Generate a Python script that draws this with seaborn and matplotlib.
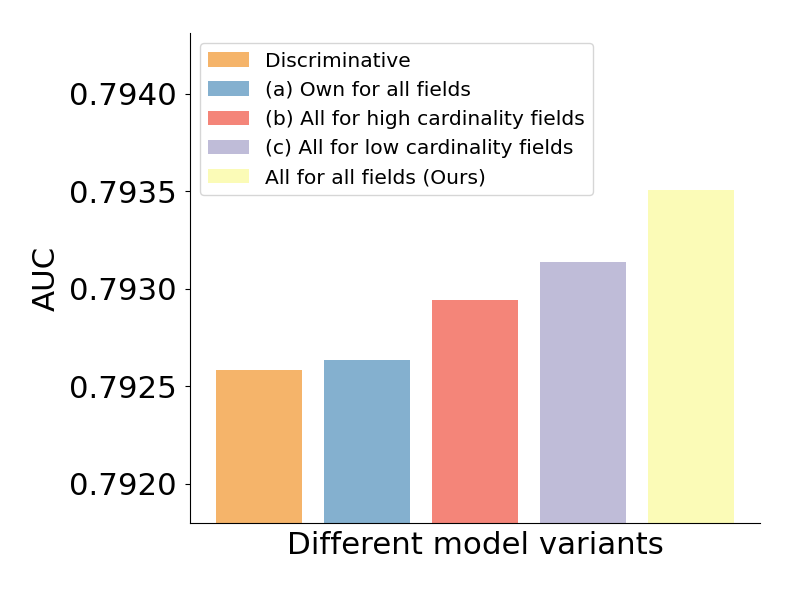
import matplotlib
matplotlib.use("Agg")
import matplotlib.pyplot as plt
import seaborn as sns
import pandas as pd

# Model variants and their AUC values.
variants = [
    "Discriminative",
    "(a) Own for all fields",
    "(b) All for high cardinality fields",
    "(c) All for low cardinality fields",
    "All for all fields (Ours)",
]
auc = [0.792585, 0.792634, 0.792941, 0.793139, 0.793509]
bar_colours = ["#fdb462", "#80b1d3", "#fb8072", "#bebada", "#ffffb3"]

yticks = [0.7920, 0.7925, 0.7930, 0.7935, 0.7940]
ytick_labels = ["0.7920", "0.7925", "0.7930", "0.7935", "0.7940"]

df = pd.DataFrame({"variant": variants, "auc": auc})

plt.rcParams["font.family"] = ["DejaVu Sans"]

fig = plt.figure(figsize=(7.93, 5.94), dpi=100)
ax = fig.add_axes([0.2396, 0.1195, 0.7187, 0.8245])

sns.barplot(
    data=df, x="variant", y="auc", hue="variant",
    palette=bar_colours, saturation=0.9, width=0.8,
    dodge=False, legend=True, ax=ax,
)

# Use matplotlib's default bar margins rather than seaborn's.
ax.set_xlim(-0.64, 4.64)
ax.set_ylim(0.79180, 0.79431)
ax.set_yticks(yticks)
ax.set_yticklabels(ytick_labels, fontsize=22.2)
ax.tick_params(axis="y", pad=6)
ax.set_xticks([])

ax.set_xlabel("Different model variants", fontsize=22.2, labelpad=6)
ax.set_ylabel("AUC", fontsize=22.2, labelpad=6)

# Drop the top and right spines.
ax.spines["top"].set_visible(False)
ax.spines["right"].set_visible(False)

ax.legend(loc="upper left", fontsize=14.6)

fig.savefig("out.png", dpi=100)
